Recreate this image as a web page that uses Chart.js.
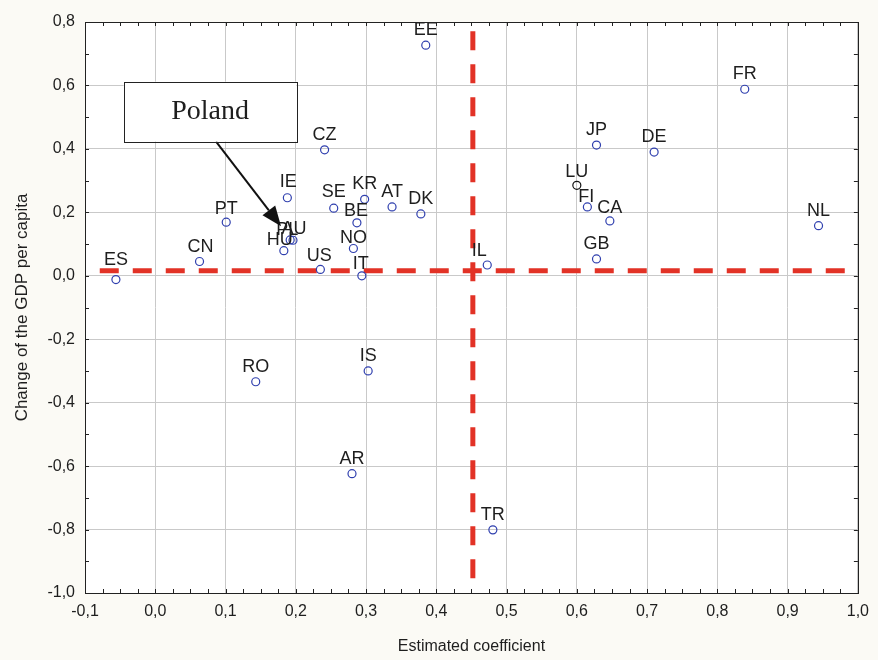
<!DOCTYPE html>
<html>
<head>
<meta charset="utf-8">
<title>Estimated coefficient vs change of the GDP per capita</title>
<script src="https://cdn.jsdelivr.net/npm/chart.js@4/dist/chart.umd.min.js"></script>
<style>
  html, body { margin: 0; padding: 0; background: #fbfaf5; }
  #wrap { width: 878px; height: 660px; }
</style>
</head>
<body>
<div id="wrap"><canvas id="chart" width="878" height="660"></canvas></div>
<script>
// country codes and their values
const countries = ['ES', 'CN', 'PT', 'RO', 'HU', 'PL', 'AU', 'IE', 'CZ', 'US',
                   'SE', 'NO', 'BE', 'AR', 'IT', 'KR', 'IS', 'AT', 'DK', 'EE',
                   'IL', 'TR', 'LU', 'FI', 'GB', 'JP', 'CA', 'DE', 'FR', 'NL'];
const coefficient = [-0.056, 0.063, 0.101, 0.143, 0.183, 0.192, 0.196, 0.188, 0.241, 0.235,
                     0.254, 0.282, 0.287, 0.280, 0.294, 0.298, 0.303, 0.337, 0.378, 0.385,
                     0.4725, 0.4805, 0.600, 0.615, 0.628, 0.628, 0.647, 0.710, 0.839, 0.944];
const gdpChange = [-0.012, 0.045, 0.169, -0.334, 0.079, 0.113, 0.112, 0.246, 0.397, 0.020,
                   0.213, 0.086, 0.167, -0.624, 0.000, 0.241, -0.300, 0.217, 0.195, 0.727,
                   0.034, -0.801, 0.285, 0.217, 0.053, 0.412, 0.173, 0.390, 0.588, 0.158];

// red dashed reference lines
const hLineX = [-0.079, 1.0];
const hLineY = [0.016, 0.016];
const vLineX = [0.452, 0.452];
const vLineY = [0.771, -0.968];

// axis ranges / tick steps
const xRange = [-0.1, 1.0];
const yRange = [-1.0, 0.8];
const xStep = 0.1;
const yStep = 0.2;

// "Poland" call-out (box corners and arrow tip, in data units)
const calloutBox = [-0.045, 0.612, 0.201, 0.423];
const calloutTip = [0.179, 0.156];

const BLUE = '#2f3fae';
const RED = 'rgb(226, 50, 38)';
const TEXT = '#1e1e1e';

// label offsets for the crowded points (pixels, from the marker centre)
const labelShift = {
  ES: [0, -20], HU: [-4, -11], PL: [-3, -10], AU: [1, -11], BE: [-1, -12],
  NO: [0, -10], US: [-1, -13], IT: [-1, -12], IL: [-8, -14], LU: [0, -13],
  FI: [-1, -10], CA: [0, -13], PT: [0, -13], CN: [1, -14], IE: [1, -16], SE: [0, -16]
};

function fmt(v) {
  if (Math.abs(v) < 1e-9) v = 0;
  return v.toFixed(1).replace('.', ',');
}

function toPoints(xs, ys) {
  return xs.map((x, i) => ({ x: x, y: ys[i] }));
}

/**
 * page background + white plot area
 */
const backgroundPlugin = {
  id: 'background',
  beforeDraw(chart) {
    const { ctx, chartArea: a } = chart;
    ctx.save();
    ctx.fillStyle = '#fbfaf5';
    ctx.fillRect(0, 0, chart.width, chart.height);
    ctx.fillStyle = '#ffffff';
    ctx.fillRect(a.left, a.top, a.right - a.left, a.bottom - a.top);
    ctx.restore();
  }
};

/**
 * black frame with inward ticks on all four sides
 */
const framePlugin = {
  id: 'frame',
  afterDraw(chart) {
    const { ctx, chartArea: a, scales } = chart;
    const len = 4;
    ctx.save();
    ctx.strokeStyle = '#222';
    ctx.lineWidth = 1;
    ctx.beginPath();
    // minor ticks on x (every quarter step)
    for (let v = xRange[0]; v <= xRange[1] + 1e-9; v += xStep / 4) {
      const px = Math.round(scales.x.getPixelForValue(v)) + 0.5;
      ctx.moveTo(px, a.bottom); ctx.lineTo(px, a.bottom - len);
      ctx.moveTo(px, a.top); ctx.lineTo(px, a.top + len);
    }
    // minor ticks on y (every half step)
    for (let v = yRange[0]; v <= yRange[1] + 1e-9; v += yStep / 2) {
      const py = Math.round(scales.y.getPixelForValue(v)) + 0.5;
      ctx.moveTo(a.left, py); ctx.lineTo(a.left + len, py);
      ctx.moveTo(a.right, py); ctx.lineTo(a.right - len, py);
    }
    ctx.stroke();
    ctx.strokeRect(Math.round(a.left) + 0.5, Math.round(a.top) + 0.5,
                   Math.round(a.right - a.left), Math.round(a.bottom - a.top));
    ctx.restore();
  }
};

/**
 * country codes above the markers
 */
const labelsPlugin = {
  id: 'pointLabels',
  afterDatasetsDraw(chart) {
    const { ctx } = chart;
    const meta = chart.getDatasetMeta(0);
    ctx.save();
    ctx.font = '18px "Liberation Sans", Arial, sans-serif';
    ctx.fillStyle = TEXT;
    ctx.textAlign = 'center';
    ctx.textBaseline = 'middle';
    meta.data.forEach((el, i) => {
      const code = countries[i];
      const s = labelShift[code] || [0, -15];
      ctx.fillText(code, el.x + s[0], el.y + s[1]);
    });
    ctx.restore();
  }
};

/**
 * "Poland" box with arrow
 */
const calloutPlugin = {
  id: 'callout',
  afterDraw(chart) {
    const { ctx, scales } = chart;
    const x1 = scales.x.getPixelForValue(calloutBox[0]);
    const y1 = scales.y.getPixelForValue(calloutBox[1]);
    const x2 = scales.x.getPixelForValue(calloutBox[2]);
    const y2 = scales.y.getPixelForValue(calloutBox[3]);
    const tx = scales.x.getPixelForValue(calloutTip[0]);
    const ty = scales.y.getPixelForValue(calloutTip[1]);
    const sx = (x1 + x2) / 2 + 6;
    const sy = y2;

    ctx.save();
    // arrow shaft
    const ang = Math.atan2(ty - sy, tx - sx);
    const head = 20;
    const half = 8;
    ctx.strokeStyle = '#111';
    ctx.lineWidth = 2;
    ctx.beginPath();
    ctx.moveTo(sx, sy);
    ctx.lineTo(tx - Math.cos(ang) * head, ty - Math.sin(ang) * head);
    ctx.stroke();
    // arrow head
    const bx = tx - Math.cos(ang) * head;
    const by = ty - Math.sin(ang) * head;
    ctx.fillStyle = '#111';
    ctx.beginPath();
    ctx.moveTo(tx, ty);
    ctx.lineTo(bx + Math.sin(ang) * half, by - Math.cos(ang) * half);
    ctx.lineTo(bx - Math.sin(ang) * half, by + Math.cos(ang) * half);
    ctx.closePath();
    ctx.fill();

    // box
    ctx.fillStyle = '#ffffff';
    ctx.fillRect(x1, y1, x2 - x1, y2 - y1);
    ctx.strokeStyle = '#222';
    ctx.lineWidth = 1;
    ctx.strokeRect(Math.round(x1) + 0.5, Math.round(y1) + 0.5, Math.round(x2 - x1), Math.round(y2 - y1));
    ctx.fillStyle = TEXT;
    ctx.font = '28px "Liberation Serif", "Times New Roman", serif';
    ctx.textAlign = 'center';
    ctx.textBaseline = 'middle';
    ctx.fillText('Poland', (x1 + x2) / 2, (y1 + y2) / 2);
    ctx.restore();
  }
};

document.addEventListener('DOMContentLoaded', function() {
  Chart.defaults.font.family = '"Liberation Sans", Arial, sans-serif';
  Chart.defaults.color = TEXT;

  const pointColors = countries.map(c => c === 'LU' ? '#111111' : BLUE);

  new Chart(document.getElementById('chart'), {
    type: 'scatter',
    data: {
      datasets: [{
        label: 'countries',
        data: toPoints(coefficient, gdpChange),
        pointRadius: 4,
        pointHoverRadius: 4,
        pointBorderWidth: 1.2,
        pointBorderColor: pointColors,
        pointBackgroundColor: 'rgba(0,0,0,0)'
      }, {
        label: 'horizontal',
        data: toPoints(hLineX, hLineY),
        showLine: true,
        borderColor: RED,
        borderWidth: 5,
        borderDash: [19, 14],
        pointRadius: 0
      }, {
        label: 'vertical',
        data: toPoints(vLineX, vLineY),
        showLine: true,
        borderColor: RED,
        borderWidth: 5,
        borderDash: [19, 14],
        pointRadius: 0
      }]
    },
    options: {
      responsive: false,
      animation: false,
      events: [],
      layout: { padding: { left: 0, top: 22, right: 19, bottom: 0 } },
      plugins: {
        legend: { display: false },
        tooltip: { enabled: false }
      },
      scales: {
        x: {
          type: 'linear',
          min: xRange[0],
          max: xRange[1],
          afterFit(scale) { scale.height = 67; },
          border: { display: false },
          grid: { color: '#c9c9c9', lineWidth: 1, drawTicks: false },
          ticks: {
            stepSize: xStep,
            padding: 9,
            font: { size: 16 },
            color: TEXT,
            callback: v => fmt(v)
          },
          title: {
            display: true,
            text: 'Estimated coefficient',
            font: { size: 16 },
            color: TEXT,
            padding: { top: 0, bottom: 4 }
          }
        },
        y: {
          type: 'linear',
          min: yRange[0],
          max: yRange[1],
          afterFit(scale) { scale.width = 85; },
          border: { display: false },
          grid: { color: '#c9c9c9', lineWidth: 1, drawTicks: false },
          ticks: {
            stepSize: yStep,
            padding: 10,
            font: { size: 16 },
            color: TEXT,
            callback: v => fmt(v)
          },
          title: {
            display: true,
            text: 'Change of the GDP per capita',
            font: { size: 17 },
            color: TEXT,
            padding: { top: 12, bottom: 0 }
          }
        }
      }
    },
    plugins: [backgroundPlugin, framePlugin, labelsPlugin, calloutPlugin]
  });
});
</script>
</body>
</html>
